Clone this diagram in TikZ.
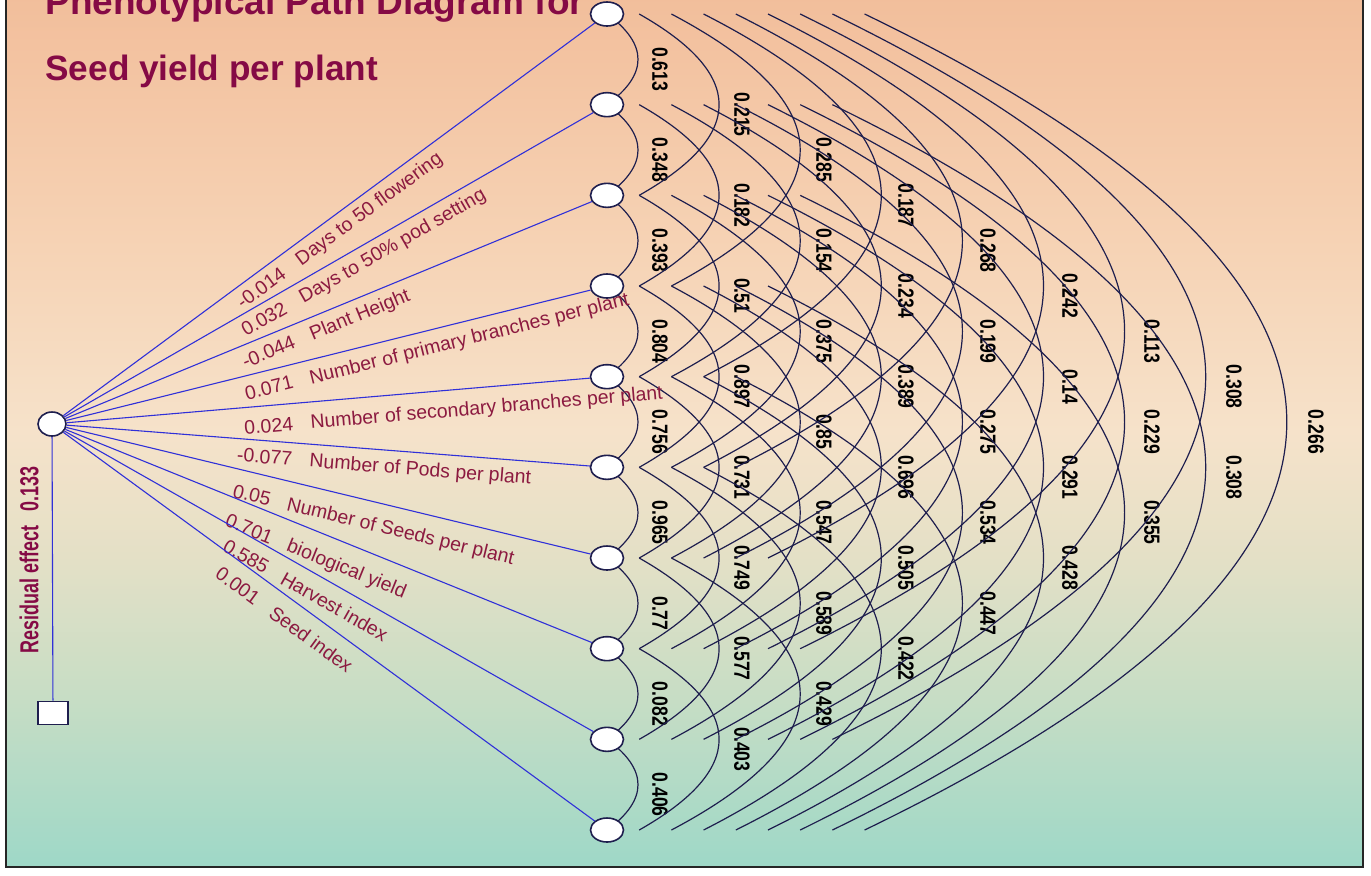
\documentclass[tikz,border=0pt]{standalone}
\usepackage{fontspec}
\setmainfont{Liberation Sans}
\usetikzlibrary{shapes.geometric, calc, positioning}

\definecolor{titlered}{HTML}{850A45}
\definecolor{labelred}{HTML}{8C1A40}
\definecolor{pathblue}{HTML}{3030D8}
\definecolor{curvenavy}{HTML}{1E1E4E}
\definecolor{peach}{HTML}{F2BE9B}
\definecolor{apricot}{HTML}{F6D3B5}
\definecolor{cream}{HTML}{F6E2CA}
\definecolor{wheat}{HTML}{E3E0C6}
\definecolor{sage}{HTML}{C6DDC5}
\definecolor{mint}{HTML}{9ED8C7}

\pgfdeclareverticalshading{panelfade}{100bp}{color(0bp)=(mint); color(25bp)=(mint); color(34.5bp)=(sage); color(42.5bp)=(wheat); color(50bp)=(cream); color(60.5bp)=(apricot); color(75bp)=(peach); color(100bp)=(peach)}

\tikzset{
  varnode/.style={ellipse, draw=curvenavy, fill=white, line width=0.8pt, minimum width=16.5pt, minimum height=12pt, inner sep=0pt},
  srcnode/.style={ellipse, draw=curvenavy, fill=white, line width=0.8pt, minimum width=14pt, minimum height=12pt, inner sep=0pt},
  resbox/.style={rectangle, draw=curvenavy, fill=white, line width=0.8pt, minimum width=15pt, minimum height=11.5pt, inner sep=0pt},
  pathline/.style={pathblue, line width=0.55pt},
  corrline/.style={curvenavy, line width=0.6pt},
  pathlabel/.style={labelred, font=\fontsize{9.75}{11}\selectfont, sloped, anchor=north west},
  corrlabel/.style={rotate=-90, font=\fontsize{11}{12}\selectfont\bfseries, inner sep=0pt},
  titletext/.style={titlered, font=\fontsize{17.6}{20}\selectfont\bfseries, anchor=base west, inner sep=0pt},
  residtext/.style={titlered, font=\fontsize{13}{14}\selectfont\bfseries, rotate=90, inner sep=0pt}
}

\begin{document}
\begin{tikzpicture}[x=0.5pt, y=-0.5pt]
  \useasboundingbox (0,0) rectangle (1371,875);
  \clip (0,0) rectangle (1371,875);
  % panel
  \fill[white] (0,0) rectangle (1371,875);
  \shade[shading=panelfade] (6,-4) rectangle (1363,867);
  \draw[line width=1.1pt, black!85] (6,-4) -- (6,867) -- (1363,867) -- (1363,-4);

  % title
  \node[titletext, font=\fontsize{18.5}{20}\selectfont\bfseries] (title1) at (45,14) {Phenotypical Path Diagram for};
  \node[titletext] (title2) at (45,80) {Seed yield per plant};

  % dependent variable and the ten traits
  \coordinate (ps) at (52,424);
  \foreach \k in {1,...,10}
    \coordinate (p\k) at (607,{14+90.667*(\k-1)});

  % correlations between traits
  \foreach \i/\j/\cv in {1/2/0.613, 2/3/0.348, 3/4/0.393, 4/5/0.804, 5/6/0.756, 6/7/0.965, 7/8/0.77, 8/9/0.082, 9/10/0.406,
      1/3/0.215, 2/4/0.182, 3/5/0.51, 4/6/0.897, 5/7/0.731, 6/8/0.749, 7/9/0.577, 8/10/0.403,
      1/4/0.285, 2/5/0.154, 3/6/0.375, 4/7/0.85, 5/8/0.547, 6/9/0.589, 7/10/0.429,
      1/5/0.187, 2/6/0.234, 3/7/0.389, 4/8/0.696, 5/9/0.505, 6/10/0.422,
      1/6/0.268, 2/7/0.199, 3/8/0.275, 4/9/0.534, 5/10/0.447,
      1/7/0.242, 2/8/0.14, 3/9/0.291, 4/10/0.428,
      1/8/0.113, 2/9/0.229, 3/10/0.355,
      1/9/0.308, 2/10/0.308,
      1/10/0.266}{
    \pgfmathsetmacro{\dd}{\j-\i-1}
    \pgfmathsetmacro{\xs}{32.2*\dd}
    \pgfmathsetmacro{\xa}{31+81.1*\dd}
    \pgfmathsetmacro{\xl}{53+82*\dd}
    \coordinate (s) at ($(p\i)+(\xs,0)$);
    \coordinate (e) at ($(p\j)+(\xs,0)$);
    \coordinate (m) at ($(s)!0.5!(e)+({2*(\xa-\xs)},0)$);
    \draw[corrline] (s) .. controls ($(s)!2/3!(m)$) and ($(e)!2/3!(m)$) .. (e);
    \node[corrlabel] (c\i-\j) at ($(p\i)!0.5!(p\j)+(\xl,10)$) {\scalebox{0.8}[1]{\cv}};
  }

  % direct effects
  \foreach \k/\q/\gap/\coef/\lbl in {1/0.416/0.3/-0.014/Days to 50 flowering,
      2/0.423/0.3/0.032/Days to 50\% pod setting,
      3/0.441/0.8/-0.044/Plant Height,
      4/0.440/1.5/0.071/Number of primary branches per plant,
      5/0.440/3/0.024/Number of secondary branches per plant,
      6/0.451/1/-0.077/Number of Pods per plant,
      7/0.408/4/0.05/Number of Seeds per plant,
      8/0.415/4.5/0.701/biological yield,
      9/0.414/2.6/0.585/Harvest index,
      10/0.3985/3.4/0.001/Seed index}
    \path (ps) -- (p\k) node[pathlabel, pos=\q, outer sep=\gap pt] (d\k) {\llap{\coef\hspace{0.9em}}\lbl};

  \foreach \k in {1,...,10}
    \node[varnode] (v\k) at (p\k) {};
  \node[srcnode] (src) at (ps) {};
  \node[resbox] (res) at (53,713) {};

  \foreach \k in {1,...,10}
    \draw[pathline] (src) -- (v\k);
  \draw[pathline] (src) -- (res);

  \node[residtext] (restext) at (29,560) {\scalebox{0.69}[1]{Residual effect\hspace{0.8em}0.133}};
\end{tikzpicture}
\end{document}
